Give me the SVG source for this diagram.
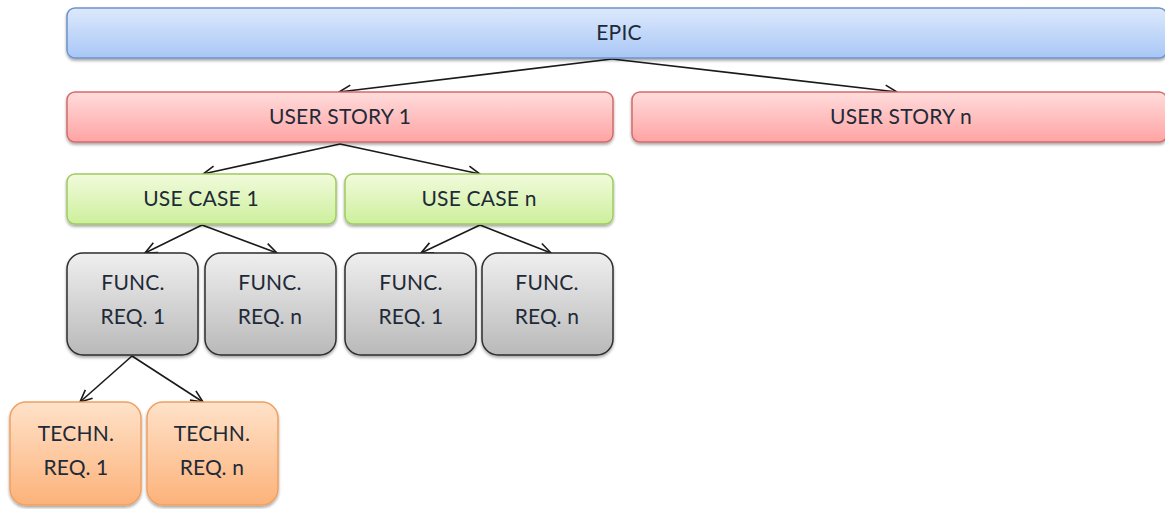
<svg xmlns="http://www.w3.org/2000/svg" width="1165" height="509" viewBox="0 0 1165 509">
  <defs>
    <linearGradient id="gBlue" x1="0" y1="0" x2="0" y2="1">
      <stop offset="0" stop-color="#dde9fc"/>
      <stop offset="1" stop-color="#a8c7f6"/>
    </linearGradient>
    <linearGradient id="gRed" x1="0" y1="0" x2="0" y2="1">
      <stop offset="0" stop-color="#ffdcdc"/>
      <stop offset="1" stop-color="#ffa3a3"/>
    </linearGradient>
    <linearGradient id="gGreen" x1="0" y1="0" x2="0" y2="1">
      <stop offset="0" stop-color="#f1fbdc"/>
      <stop offset="1" stop-color="#cdef9c"/>
    </linearGradient>
    <linearGradient id="gGray" x1="0" y1="0" x2="0" y2="1">
      <stop offset="0" stop-color="#efefef"/>
      <stop offset="1" stop-color="#b9b9b9"/>
    </linearGradient>
    <linearGradient id="gOrange" x1="0" y1="0" x2="0" y2="1">
      <stop offset="0" stop-color="#ffe2c9"/>
      <stop offset="1" stop-color="#fcb27a"/>
    </linearGradient>
    <filter id="shadow" x="-5%" y="-10%" width="110%" height="130%">
      <feGaussianBlur in="SourceAlpha" stdDeviation="1.5"/>
      <feOffset dx="0" dy="2" result="b"/>
      <feComponentTransfer><feFuncA type="linear" slope="0.35"/></feComponentTransfer>
      <feMerge><feMergeNode/><feMergeNode in="SourceGraphic"/></feMerge>
    </filter>
    <marker id="arrow" viewBox="0 0 14 14" refX="13" refY="7" markerWidth="14" markerHeight="14" markerUnits="userSpaceOnUse" orient="auto">
      <path d="M1,1.5 L13,7 L1,12.5" fill="none" stroke="#1a1a1a" stroke-width="1.6"/>
    </marker>
  </defs>
  <style>
    .box { filter: url(#shadow); stroke-width: 1.5; }
    .epic { fill: url(#gBlue); stroke: #6e93ca; }
    .story { fill: url(#gRed); stroke: #d46b6b; }
    .usecase { fill: url(#gGreen); stroke: #9fcb5f; }
    .func { fill: url(#gGray); stroke: #2e2e2e; }
    .tech { fill: url(#gOrange); stroke: #f1a060; }
    text { font-family: "Lato", "Open Sans", "Liberation Sans", sans-serif; font-size: 21px; letter-spacing: 0.2px; fill: #1e2a38; text-anchor: middle; }
    .conn line { stroke: #1a1a1a; stroke-width: 1.6; marker-end: url(#arrow); }
  </style>

  <g id="connectors" class="conn">
    <line x1="612" y1="59" x2="339" y2="92"/>
    <line x1="612" y1="59" x2="897" y2="92"/>
    <line x1="340" y1="144" x2="203" y2="174"/>
    <line x1="340" y1="144" x2="480" y2="174"/>
    <line x1="202" y1="225" x2="145" y2="253"/>
    <line x1="202" y1="225" x2="277" y2="253"/>
    <line x1="480" y1="225" x2="421" y2="253"/>
    <line x1="480" y1="225" x2="551" y2="253"/>
    <line x1="132" y1="356" x2="80" y2="402"/>
    <line x1="132" y1="356" x2="203" y2="402"/>
  </g>

  <g id="epic">
    <rect class="box epic" x="67" y="8" width="1100" height="50" rx="8"/>
    <text x="619" y="40">EPIC</text>
  </g>

  <g id="user-story-1">
    <rect class="box story" x="67" y="92" width="546" height="50" rx="8"/>
    <text x="340" y="124">USER STORY 1</text>
  </g>
  <g id="user-story-n">
    <rect class="box story" x="632" y="92" width="535" height="50" rx="8"/>
    <text x="901" y="124">USER STORY n</text>
  </g>

  <g id="use-case-1">
    <rect class="box usecase" x="67" y="174" width="269" height="50" rx="8"/>
    <text x="201" y="206">USE CASE 1</text>
  </g>
  <g id="use-case-n">
    <rect class="box usecase" x="345" y="174" width="268" height="50" rx="8"/>
    <text x="479" y="206">USE CASE n</text>
  </g>

  <g id="func-req-1a">
    <rect class="box func" x="67" y="253" width="131" height="102" rx="16"/>
    <text x="133" y="290">FUNC.</text>
    <text x="133" y="324">REQ. 1</text>
  </g>
  <g id="func-req-na">
    <rect class="box func" x="205" y="253" width="131" height="102" rx="16"/>
    <text x="270" y="290">FUNC.</text>
    <text x="270" y="324">REQ. n</text>
  </g>
  <g id="func-req-1b">
    <rect class="box func" x="345" y="253" width="131" height="102" rx="16"/>
    <text x="411" y="290">FUNC.</text>
    <text x="411" y="324">REQ. 1</text>
  </g>
  <g id="func-req-nb">
    <rect class="box func" x="482" y="253" width="131" height="102" rx="16"/>
    <text x="547" y="290">FUNC.</text>
    <text x="547" y="324">REQ. n</text>
  </g>

  <g id="tech-req-1">
    <rect class="box tech" x="10" y="402" width="131" height="103" rx="16"/>
    <text x="76" y="441">TECHN.</text>
    <text x="76" y="475">REQ. 1</text>
  </g>
  <g id="tech-req-n">
    <rect class="box tech" x="147" y="402" width="131" height="103" rx="16"/>
    <text x="212" y="441">TECHN.</text>
    <text x="212" y="475">REQ. n</text>
  </g>
</svg>
